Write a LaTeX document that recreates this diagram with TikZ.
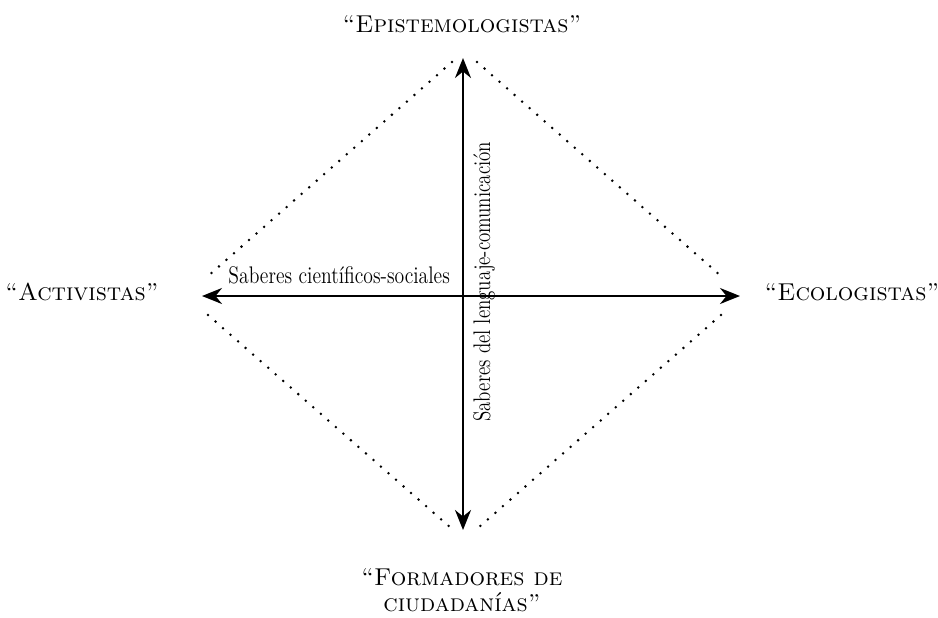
\documentclass[tikz,border=0pt]{standalone}
\usepackage{tikz}
\usetikzlibrary{arrows.meta}
\tikzset{
  pole/.style={font=\fontsize{12.2}{14}\selectfont\scshape, align=center, inner sep=0pt},
  saber/.style={font=\fontsize{12}{14}\selectfont, inner sep=0pt},
  axis/.style={line width=1.2pt, {Stealth[length=10pt,width=8pt]}-{Stealth[length=10pt,width=8pt]}},
  edge/.style={line width=1.4pt, line cap=round, dash pattern=on 0pt off 5pt}
}

\begin{document}
\begin{tikzpicture}[x=0.5pt,y=-0.5pt]
    \useasboundingbox (0,0) rectangle (938,617);
    % the four poles
    \node[pole, anchor=base] (epis) at (462,32) {``Epistemologistas''};
    \node[pole, anchor=base] (acti) at (82,300) {``Activistas''};
    \node[pole, anchor=base] (ecol) at (852,300) {``Ecologistas''};
    \node[pole, anchor=base] (form) at (462,611) {``Formadores de\\[-1pt]ciudadanías''};
    % axes
    \coordinate (top) at (463,58);
    \coordinate (bot) at (463,530);
    \coordinate (lft) at (202,296);
    \coordinate (rgt) at (740,296);
    \draw[axis] (lft) -- (rgt);
    \draw[axis] (bot) -- (top);
    \node[saber, anchor=base west] (soc) at (228,283) {\scalebox{0.82}[1]{Saberes científicos-sociales}};
    \node[saber, rotate=90, anchor=base west] (len) at (490,422) {\scalebox{0.79}[1]{Saberes del lenguaje-comunicación}};
    % dotted diamond
    \coordinate (nw) at (452,62);
    \coordinate (ne) at (477,62);
    \coordinate (wn) at (208,276);
    \coordinate (ws) at (208,315);
    \coordinate (en) at (721,276);
    \coordinate (es) at (721,315);
    \coordinate (sw) at (451,528);
    \coordinate (se) at (478,528);
    \draw[edge] (nw) -- (wn);
    \draw[edge] (ne) -- (en);
    \draw[edge] (ws) -- (sw);
    \draw[edge] (es) -- (se);
\end{tikzpicture}
\end{document}
